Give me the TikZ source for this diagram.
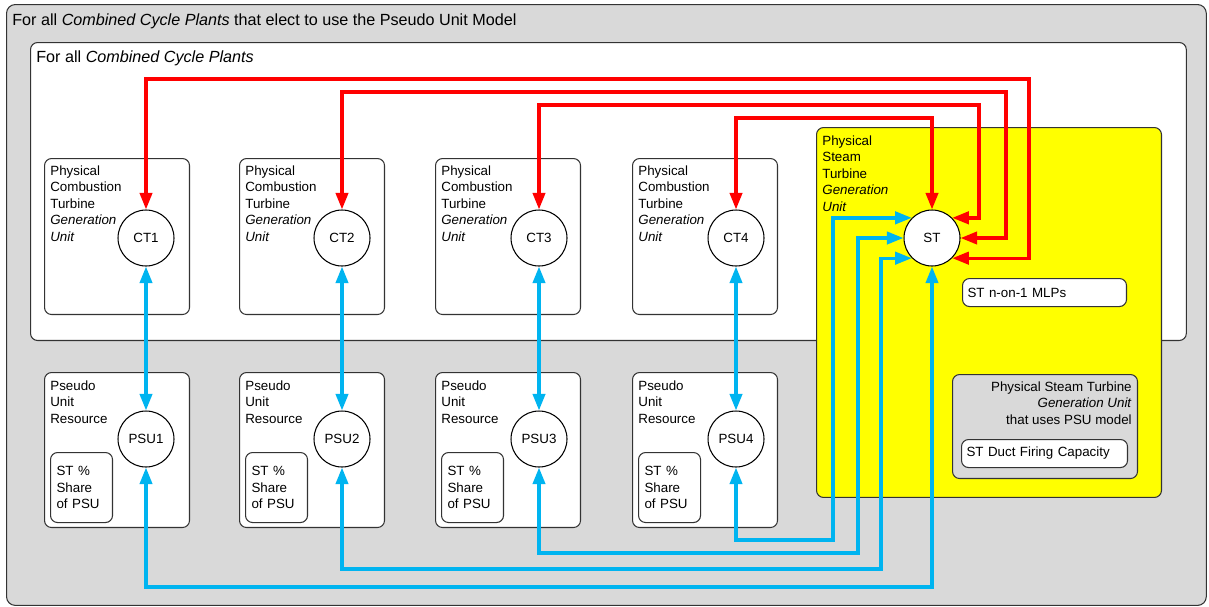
\documentclass[tikz,border=0pt]{standalone}
\usepackage{fontspec}
\setmainfont{Liberation Sans}
\usetikzlibrary{arrows.meta}

\definecolor{plantgrey}{HTML}{D9D9D9}
\definecolor{steamyellow}{HTML}{FFFF00}
\definecolor{linkred}{HTML}{FF0000}
\definecolor{linkblue}{HTML}{00B4F0}

\begin{document}
\begin{tikzpicture}[x=0.02cm, y=-0.02cm,
    font=\fontsize{7.6}{9.4}\selectfont,
    panel/.style={draw=black!80, line width=0.6pt, rounded corners=4pt, anchor=north west, inner sep=0pt},
    unit/.style={circle, draw=black, line width=0.6pt, fill=white, minimum size=1.12cm, inner sep=0pt},
    boxtext/.style={anchor=north west, align=left, inner sep=0pt},
    title/.style={anchor=base west, inner sep=0pt, font=\fontsize{9.2}{11}\selectfont},
    redlink/.style={draw=linkred, line width=1.9pt, {Triangle[length=9.5pt,width=7pt]}-{Triangle[length=9.5pt,width=7pt]}},
    bluelink/.style={draw=linkblue, line width=1.9pt, {Triangle[length=9.5pt,width=7pt]}-{Triangle[length=9.5pt,width=7pt]}}]

      \useasboundingbox (0,0) rectangle (1209,606);

      \node[panel, fill=plantgrey, rounded corners=5pt, minimum width=24cm, minimum height=12.02cm] (pumodel) at (6,4) {};
      \node[title] (pumodeltxt) at (12,25) {For all \textit{Combined Cycle Plants} that elect to use the Pseudo Unit Model};

      \node[panel, fill=white, minimum width=23.12cm, minimum height=5.96cm] (ccplants) at (30,42) {};
      \node[title] (ccplantstxt) at (36,62) {For all \textit{Combined Cycle Plants}};

      \node[panel, fill=white, minimum width=2.9cm, minimum height=3.12cm] (ct1box) at (44,158) {};
      \node[panel, fill=white, minimum width=2.9cm, minimum height=3.12cm] (ct2box) at (239,158) {};
      \node[panel, fill=white, minimum width=2.9cm, minimum height=3.12cm] (ct3box) at (435,158) {};
      \node[panel, fill=white, minimum width=2.9cm, minimum height=3.12cm] (ct4box) at (632,158) {};
      \node[boxtext] (ct1txt) at (50,165) {Physical\\Combustion\\Turbine\\\textit{Generation}\\\textit{Unit}};
      \node[boxtext] (ct2txt) at (245,165) {Physical\\Combustion\\Turbine\\\textit{Generation}\\\textit{Unit}};
      \node[boxtext] (ct3txt) at (441,165) {Physical\\Combustion\\Turbine\\\textit{Generation}\\\textit{Unit}};
      \node[boxtext] (ct4txt) at (638,165) {Physical\\Combustion\\Turbine\\\textit{Generation}\\\textit{Unit}};

      \node[panel, fill=white, minimum width=2.9cm, minimum height=3.1cm] (psu1box) at (44,372) {};
      \node[panel, fill=white, minimum width=2.9cm, minimum height=3.1cm] (psu2box) at (239,372) {};
      \node[panel, fill=white, minimum width=2.9cm, minimum height=3.1cm] (psu3box) at (435,372) {};
      \node[panel, fill=white, minimum width=2.9cm, minimum height=3.1cm] (psu4box) at (632,372) {};
      \node[boxtext] (psu1txt) at (50,380) {Pseudo\\Unit\\Resource};
      \node[boxtext] (psu2txt) at (245,380) {Pseudo\\Unit\\Resource};
      \node[boxtext] (psu3txt) at (441,380) {Pseudo\\Unit\\Resource};
      \node[boxtext] (psu4txt) at (638,380) {Pseudo\\Unit\\Resource};

      \node[panel, fill=white, minimum width=1.24cm, minimum height=1.4cm, text width=1.0cm, align=left] (share1) at (50,452) {ST \%\\Share\\of PSU};
      \node[panel, fill=white, minimum width=1.24cm, minimum height=1.4cm, text width=1.0cm, align=left] (share2) at (245,452) {ST \%\\Share\\of PSU};
      \node[panel, fill=white, minimum width=1.24cm, minimum height=1.4cm, text width=1.0cm, align=left] (share3) at (441,452) {ST \%\\Share\\of PSU};
      \node[panel, fill=white, minimum width=1.24cm, minimum height=1.4cm, text width=1.0cm, align=left] (share4) at (638,452) {ST \%\\Share\\of PSU};

      \node[panel, fill=steamyellow, minimum width=6.9cm, minimum height=7.4cm] (stbox) at (816,127) {};
      \node[boxtext] (sttxt) at (822,135) {Physical\\Steam\\Turbine\\\textit{Generation}\\\textit{Unit}};
      \node[panel, fill=white, minimum width=3.28cm, minimum height=0.56cm, text width=3.08cm, align=left] (mlps) at (962,278) {ST n-on-1 MLPs};
      \node[panel, fill=plantgrey, minimum width=3.7cm, minimum height=2.08cm] (psubox) at (952,374) {};
      \node[boxtext, anchor=north east, align=right] (psutxt) at (1132,381) {Physical Steam Turbine\\\textit{Generation Unit}\\that uses PSU model};
      \node[panel, fill=white, minimum width=3.32cm, minimum height=0.56cm, text width=3.12cm, align=left] (duct) at (961,439) {ST Duct Firing Capacity};

      \node[unit] (ct1) at (146,238) {CT1};
      \node[unit] (ct2) at (342,238) {CT2};
      \node[unit] (ct3) at (539,238) {CT3};
      \node[unit] (ct4) at (736,238) {CT4};
      \node[unit] (psu1) at (146,439) {PSU1};
      \node[unit] (psu2) at (342,439) {PSU2};
      \node[unit] (psu3) at (539,439) {PSU3};
      \node[unit] (psu4) at (736,439) {PSU4};
      \node[unit] (st) at (932,238) {ST};

      \draw[redlink] (ct1.north) |- (1029,79) |- (st.-45);
      \draw[redlink] (ct2.north) |- (1006,92) |- (st.east);
      \draw[redlink] (ct3.north) |- (979,105) |- (st.45);
      \draw[redlink] (ct4.north) |- (932,118) -- (st.north);

      \draw[bluelink] (ct1.south) -- (psu1.north);
      \draw[bluelink] (ct2.south) -- (psu2.north);
      \draw[bluelink] (ct3.south) -- (psu3.north);
      \draw[bluelink] (ct4.south) -- (psu4.north);

      \draw[bluelink] (psu1.south) |- (932,587) -- (st.south);
      \draw[bluelink] (psu2.south) |- (881,569) |- (st.-135);
      \draw[bluelink] (psu3.south) |- (858,553) |- (st.west);
      \draw[bluelink] (psu4.south) |- (833,540) |- (st.135);

    \end{tikzpicture}
\end{document}
